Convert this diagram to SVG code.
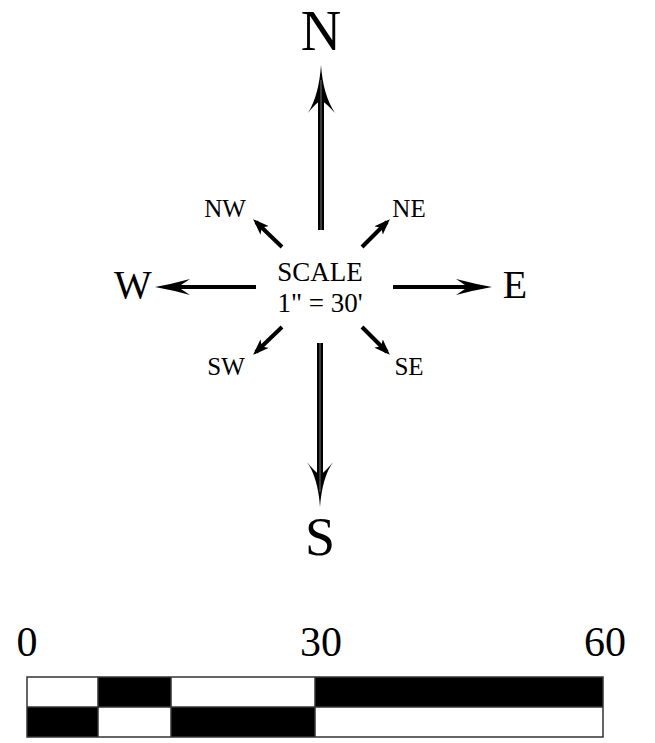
<svg xmlns="http://www.w3.org/2000/svg" width="655" height="743" viewBox="0 0 655 743">
<style>
text{font-family:"Liberation Serif","Times New Roman",serif;fill:#000;text-anchor:middle}
.big{font-size:56px}
.card{font-size:40px}
.small{font-size:25px}
.mid{font-size:27px}
.num{font-size:42px}
.shaft{stroke:#000;stroke-width:6;fill:none}
.gap{stroke:#777;stroke-width:1;fill:none}
.ln{stroke:#000;stroke-width:4;fill:none}
.head{fill:#000;stroke:none}
</style>
<defs>
<marker id="dh" viewBox="0 0 16 12" refX="12" refY="6" markerWidth="16" markerHeight="12" markerUnits="userSpaceOnUse" orient="auto">
<path d="M0,0 L16,6 L0,12 L4,6 Z" fill="#000"/>
</marker>
</defs>
<rect width="655" height="743" fill="#fff"/>
<g id="connectors">
<g id="arrow-N">
<line class="shaft" x1="321" y1="98" x2="321" y2="230"/>
<path class="head" d="M321,65 Q323,95 335,113 Q327,104 321,100 Q315,104 308,113 Q319,95 321,65 Z"/>
<line class="gap" x1="321" y1="80" x2="321" y2="230"/>
</g>
<g id="arrow-S">
<line class="shaft" x1="320" y1="343" x2="320" y2="476"/>
<path class="head" d="M320,507 Q318,478 307,462 Q314,471 320,475 Q326,471 333,462 Q322,478 320,507 Z"/>
<line class="gap" x1="320" y1="343" x2="320" y2="492"/>
</g>
<g id="arrow-W">
<line class="ln" x1="256" y1="287" x2="172" y2="287"/>
<path class="head" d="M155,287 Q172,284 190,279 Q181,285 178,287 Q181,289 190,295 Q172,290 155,287 Z"/>
</g>
<g id="arrow-E">
<line class="ln" x1="393" y1="287" x2="475" y2="287"/>
<path class="head" d="M492,287 Q475,284 456,279 Q465,285 468,287 Q465,289 456,295 Q475,290 492,287 Z"/>
</g>
<line id="arrow-NW" class="ln" x1="282" y1="247" x2="256" y2="222" marker-end="url(#dh)"/>
<line id="arrow-NE" class="ln" x1="362" y1="247" x2="387" y2="222" marker-end="url(#dh)"/>
<line id="arrow-SW" class="ln" x1="282" y1="327" x2="256" y2="352" marker-end="url(#dh)"/>
<line id="arrow-SE" class="ln" x1="362" y1="327" x2="387" y2="352" marker-end="url(#dh)"/>
</g>
<g id="label-N"><text class="big" x="321" y="50">N</text></g>
<g id="label-S"><text class="big" x="320" y="555" style="font-size:54px">S</text></g>
<g id="label-W"><text class="card" x="133" y="298">W</text></g>
<g id="label-E"><text class="card" x="515" y="298">E</text></g>
<g id="label-NW"><text class="small" x="225" y="217">NW</text></g>
<g id="label-NE"><text class="small" x="409" y="217">NE</text></g>
<g id="label-SW"><text class="small" x="226" y="375">SW</text></g>
<g id="label-SE"><text class="small" x="409" y="375">SE</text></g>
<g id="scale-text">
<text class="mid" x="320" y="281">SCALE</text>
<text class="mid" x="320" y="312">1" = 30'</text>
</g>
<g id="scale-bar">
<text class="num" x="27" y="656">0</text>
<text class="num" x="321" y="656">30</text>
<text class="num" x="605" y="656">60</text>
<rect x="98" y="677" width="73" height="30" fill="#000"/>
<rect x="315" y="677" width="288" height="30" fill="#000"/>
<rect x="27" y="707" width="71" height="30" fill="#000"/>
<rect x="171" y="707" width="144" height="30" fill="#000"/>
<g stroke="#333" stroke-width="1.5" fill="none">
<rect x="27" y="677" width="576" height="60"/>
<line x1="27" y1="707" x2="603" y2="707"/>
<line x1="98" y1="677" x2="98" y2="737"/>
<line x1="171" y1="677" x2="171" y2="737"/>
<line x1="315" y1="677" x2="315" y2="737"/>
</g>
</g>
</svg>
